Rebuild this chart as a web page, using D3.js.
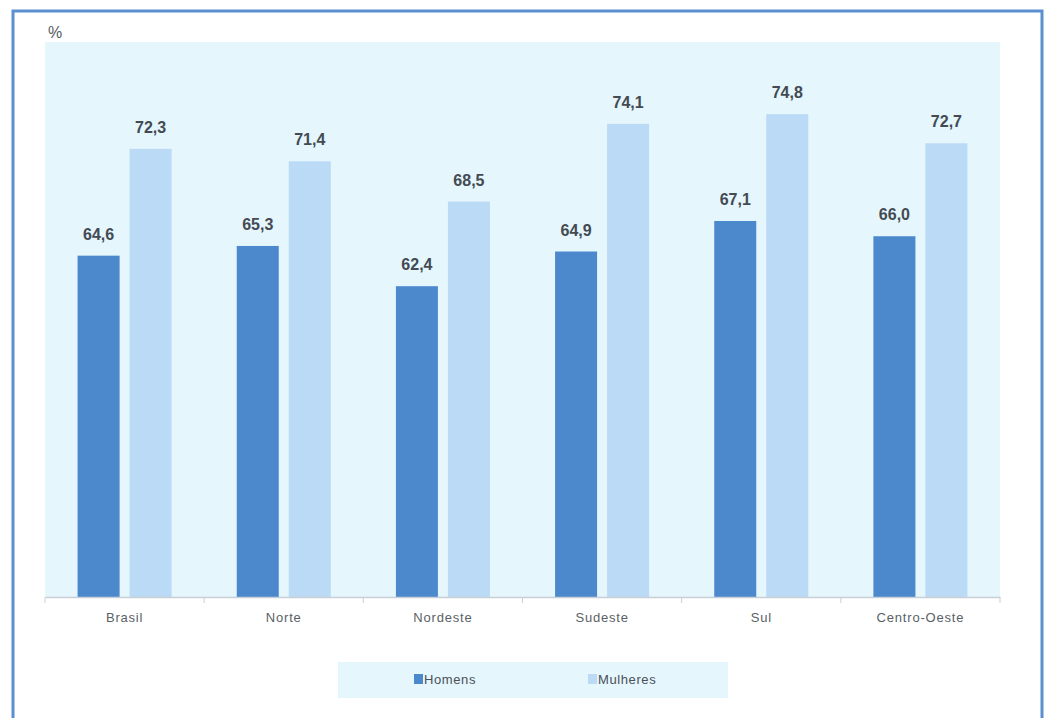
<!DOCTYPE html>
<html>
<head>
<meta charset="utf-8">
<script src="https://cdn.jsdelivr.net/npm/d3@7"></script>
<style>
  html, body { margin: 0; padding: 0; background: #ffffff; }
  svg { display: block; }
</style>
</head>
<body>
<svg id="chart" width="1046" height="718"></svg>
<script>
// Regions and percentages by sex
const categories = ["Brasil", "Norte", "Nordeste", "Sudeste", "Sul", "Centro-Oeste"];
const homens = [64.6, 65.3, 62.4, 64.9, 67.1, 66.0];
const mulheres = [72.3, 71.4, 68.5, 74.1, 74.8, 72.7];
const seriesNames = ["Homens", "Mulheres"];
const seriesColors = ["#4b88cc", "#badaf5"];

const svg = d3.select("#chart");

// outer frame
svg.append("rect")
  .attr("x", 13).attr("y", 11)
  .attr("width", 1029).attr("height", 712)
  .attr("fill", "#ffffff")
  .attr("stroke", "#5b8fd0").attr("stroke-width", 3);

const plot = { left: 45, right: 1000, top: 42, bottom: 597 };

// plot background
svg.append("rect")
  .attr("x", plot.left).attr("y", plot.top)
  .attr("width", plot.right - plot.left).attr("height", plot.bottom - plot.top)
  .attr("fill", "#e5f6fd");

const x = d3.scaleBand().domain(categories).range([plot.left, plot.right]).paddingInner(0).paddingOuter(0);
const y = d3.scaleLinear().domain([40, 80]).range([plot.bottom, plot.top]);

const barW = 42, gap = 10;
const data = categories.map((c, i) => ({ cat: c, vals: [homens[i], mulheres[i]] }));

const groups = svg.append("g").selectAll("g").data(data).join("g")
  .attr("transform", d => `translate(${x(d.cat) + (x.bandwidth() - (2 * barW + gap)) / 2},0)`);

groups.selectAll("rect").data(d => d.vals).join("rect")
  .attr("x", (v, j) => j * (barW + gap))
  .attr("y", v => y(v))
  .attr("width", barW)
  .attr("height", v => plot.bottom - y(v))
  .attr("fill", (v, j) => seriesColors[j]);

groups.selectAll("text").data(d => d.vals).join("text")
  .attr("x", (v, j) => j * (barW + gap) + barW / 2)
  .attr("y", v => y(v) - 16)
  .attr("text-anchor", "middle")
  .attr("font-family", "Liberation Sans, Arial, sans-serif")
  .attr("font-weight", "bold")
  .attr("font-size", 16)
  .attr("fill", "#434a52")
  .text(v => d3.format(".1f")(v).replace(".", ","));

// category axis
const xAxis = svg.append("g")
  .attr("transform", `translate(0,${plot.bottom})`)
  .call(d3.axisBottom(x).tickSize(0).tickPadding(16));
xAxis.select(".domain").attr("stroke", "#c8cfd6").attr("stroke-width", 1.5);
xAxis.selectAll("text")
  .attr("font-family", "Liberation Sans, Arial, sans-serif")
  .attr("font-size", 13)
  .attr("letter-spacing", "0.8px")
  .attr("fill", "#5a5f66");
// boundary ticks between categories
const bounds = categories.map(c => x(c)).concat([plot.right]);
svg.append("g").selectAll("line").data(bounds).join("line")
  .attr("x1", d => d).attr("x2", d => d)
  .attr("y1", plot.bottom).attr("y2", plot.bottom + 6)
  .attr("stroke", "#c8cfd6").attr("stroke-width", 1);

// unit label
svg.append("text")
  .attr("x", 48).attr("y", 38)
  .attr("font-family", "Liberation Sans, Arial, sans-serif")
  .attr("font-size", 16)
  .attr("fill", "#555a60")
  .text("%");

// legend
const legend = svg.append("g");
legend.append("rect")
  .attr("x", 338).attr("y", 662).attr("width", 390).attr("height", 36)
  .attr("fill", "#e5f6fd");
const legendItems = [{ x: 414 }, { x: 588 }];
seriesNames.forEach((name, i) => {
  const g = legend.append("g").attr("transform", `translate(${legendItems[i].x},680)`);
  g.append("rect").attr("x", 0).attr("y", -6).attr("width", 9).attr("height", 10)
    .attr("fill", seriesColors[i]);
  g.append("text").attr("x", 10).attr("y", 4)
    .attr("font-family", "Liberation Sans, Arial, sans-serif")
    .attr("font-size", 13)
    .attr("letter-spacing", "0.6px")
    .attr("fill", "#4a5058")
    .text(name);
});
</script>
</body>
</html>
